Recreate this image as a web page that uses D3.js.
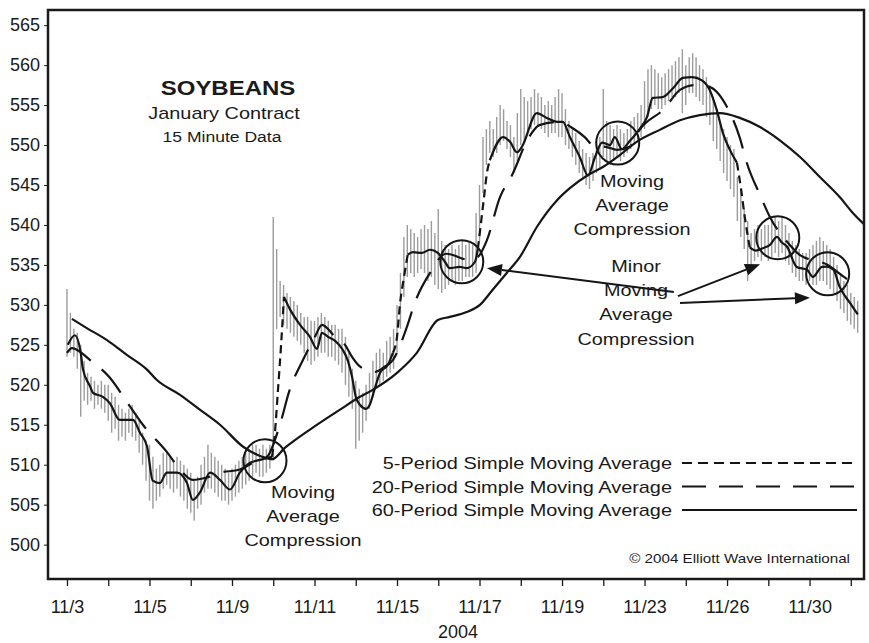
<!DOCTYPE html>
<html>
<head>
<meta charset="utf-8">
<script src="https://cdn.jsdelivr.net/npm/d3@7/dist/d3.min.js"></script>
<style>
    body { margin: 0; background: #fff; }
    svg text { font-family: "Liberation Sans", Arial, Helvetica, sans-serif; fill: #1a1a1a; }
</style>
</head>
<body>
<div id="chart"></div>
<script>

// trading days on the x axis, label on every other one
var days = ["11/3","11/4","11/5","11/8","11/9","11/10","11/11","11/12","11/15","11/16",
            "11/17","11/18","11/19","11/22","11/23","11/24","11/26","11/29","11/30","12/1"];
var priceTicks = [500,505,510,515,520,525,530,535,540,545,550,555,560,565];
var barsPerDay = 12;

// 15 minute bars, high and low, one row per day
var barHigh = [
    532,529,527,526.5,525,523,521.5,521,520.5,520,520.5,520,
    520,519,518.5,517.5,517,516.5,517,517.5,516.5,515.5,514,513,
    512.5,511,509.5,510,511.5,511.5,511,510.5,511,510.5,510,509.5,
    509,508,508.5,510,511,512.5,511.5,511,510.5,510,509.5,509,
    509.5,510,510.5,511,511.5,512,512.5,512.5,512,512.5,512,512.5,
    541,537,533,532.5,531.5,531,530.5,530,529,528.5,528.5,528,
    528,528.5,529,528.5,528,527.5,527.5,527,527,526,524,522,
    520.5,519.5,519,520,521.5,523,524,524.5,524,525.5,526,527,
    530,534,538.5,540,539.5,539,538.5,539.5,540,539.5,540.5,539,
    542,538,537.5,537,537.5,537,537.5,538,537.5,538,537.5,541.5,
    545,551,552,553,552,553.5,555,554.5,553,552.5,551,554,
    557,556,555.5,556,557,556.5,556,555,555.5,555,556,557,
    556.5,554.5,553,552,551.5,550.5,549.5,549,548.5,549,550.5,551,
    557,553,552.5,552,552.5,552,551.5,552,553,553.5,554,555,
    558,559.5,560,559.5,559,558.5,559,559.5,560,560.5,561,562,
    560,561,561.5,561,560,559.5,558.5,557.5,556,554.5,553,552,
    551,550,549.5,546,544.5,542,540.5,539,539.5,540,539.5,540,
    540,540.5,541,540.5,541,540,539,538,537.5,537,536.5,536.5,
    537,537.5,538,538.5,538,537.5,537,536,535,534,533,532.5,
    531.5,531,530.5
];
var barLow = [
    523.5,524,523.5,522,516,518,517.5,518,517,517.5,517,516.5,
    515.5,514,514.5,513,513.5,513,514,513.5,513,511.5,510,508,
    505.5,504.5,505.5,506,507,507.5,507,506.5,507,506,505.5,504.5,
    504,503,504.5,505,506.5,507,507,506.5,506,505.5,505.5,505,
    505.5,506,506.5,507,507.5,508,508.5,509,508.5,508.5,509,509.5,
    510.5,527,528.5,527.5,527,526.5,526,525.5,525,524,523,522.5,
    523,523.5,524,524,523.5,523.5,523,522.5,521.5,520,518.5,517,
    512,513,514,515.5,517,518.5,519.5,520,520.5,521,521.5,522,
    524,527,531,533.5,534,533.5,534,534.5,534,533,533.5,532.5,
    532,531.5,532,532.5,533,532.5,533,533,533.5,533.5,533.5,534,
    538,544,547.5,549,548.5,549,550,550.5,549.5,548.5,546.5,548,
    550,550.5,551.5,552,552.5,552.5,552,551.5,551,551.5,551.5,551,
    551,550,549.5,548.5,547.5,546.5,546,545,544.5,545.5,546.5,547,
    548.5,548,547.5,548,548.5,548,548.5,549,549.5,550,550.5,551,
    552,553.5,554.5,555,554.5,554.5,555,555.5,556,556,556.5,554,
    555,556.5,556.5,556,555.5,555,553.5,552.5,550.5,549.5,548,546.5,
    545.5,544.5,543.5,540.5,538.5,537,533,535,535.5,536,535.5,536,
    535.5,536,536.5,536,536.5,535.5,535,534,533.5,533,533,532.5,
    533,532.5,532.5,533,533,532.5,532,531.5,530.5,529.5,529,528,
    527.5,527,526.5
];

// moving averages: [day, price]
var ma5 = [[0.02,525],[0.19,526.2],[0.32,524.4],[0.39,521.9],[0.56,519.8],[0.63,519],[0.87,518.5],
    [1.04,517.7],[1.28,515.6],[1.6,515.6],[1.77,514],[1.94,512.3],[2.08,508],[2.25,507.7],[2.42,509],
    [2.67,509],[2.91,507.7],[3.05,505.6],[3.22,506.5],[3.47,509],[3.71,508.1],[3.95,506.9],[4.19,509],
    [4.44,510.25],[4.68,510.6],[4.97,511],[5.04,514],[5.11,519],[5.19,525],[5.26,531],[5.4,529.5],
    [5.65,527.5],[5.89,526],[6.06,524.5],[6.18,526.5],[6.33,526],[6.5,525.5],[6.67,524.5],[6.81,523],
    [6.91,521],[7.0,518.5],[7.1,517.5],[7.25,517],[7.34,517.5],[7.46,519.5],[7.59,521.5],[7.78,522.5],
    [7.9,524],[8.0,526],[8.07,530],[8.17,533.5],[8.26,536.3],[8.39,536.6],[8.6,536.5],[8.8,536.9],
    [8.99,536.5],[9.16,535.4],[9.28,534.6],[9.52,534.75],[9.69,534.6],[9.89,535.4],[9.96,537],[10.03,540],
    [10.11,543.5],[10.18,546.5],[10.25,548.1],[10.57,551],[10.74,550.4],[10.91,549.1],[11.03,549.8],
    [11.39,554],[11.63,553.4],[11.88,552.9],[12.02,552.9],[12.19,551],[12.43,548.5],[12.63,546.2],
    [12.8,548.5],[12.97,550.3],[13.16,550],[13.28,551],[13.45,549.5],[13.64,550.5],[13.88,552],
    [14.06,553.5],[14.2,555.9],[14.44,556],[14.69,557.1],[14.93,558.4],[15.15,558.5],[15.39,558.1],
    [15.58,556.9],[15.75,554.4],[15.9,551.5],[16.07,549.4],[16.24,547.8],[16.34,544.5],[16.43,541],
    [16.55,537.2],[16.7,536.8],[16.87,537.1],[17.04,537.5],[17.21,538.5],[17.33,537.8],[17.45,537.3],
    [17.69,534.75],[17.94,534.4],[18.08,533.5],[18.3,534.75],[18.42,534.8],[18.58,534.4],[18.73,532.25],
    [18.98,530.25],[19.17,528.8]];
var ma20 = [[0,524],[0.12,524.6],[0.56,523.1],[1.02,521],[1.5,517.5],[1.84,515],[2.42,511.6],[2.74,509.4],
    [3.05,508.1],[3.39,508.4],[3.71,509],[4.19,509.4],[4.51,510.25],[4.85,511],[5.16,515],[5.4,519.4],
    [5.72,523.1],[6.01,526],[6.18,527.5],[6.5,526],[6.74,525],[6.91,523.5],[7.1,522.3],[7.46,521.6],
    [7.71,522.3],[7.9,523.1],[8.24,527.25],[8.43,530.25],[8.8,534],[9.19,536.4],[9.77,535.6],[9.94,535.9],
    [10.18,538.1],[10.49,543.4],[10.79,546.25],[11.2,551],[11.45,552.5],[11.95,552.9],[12.26,552.1],
    [12.55,551],[12.75,550],[13.09,549.75],[13.33,549.4],[13.64,549.8],[13.88,551.9],[14.49,554.6],
    [14.86,556.9],[15.22,557.5],[15.58,557.25],[16.0,554.75],[16.31,550.9],[16.48,547.75],[16.8,543.75],
    [17.04,541],[17.52,537.5],[17.76,536.25],[18.44,535],[18.86,533.4],[19.17,532.3]];
var ma60 = [[0.12,528.25],[0.48,527.1],[0.97,525.6],[1.45,523.75],[1.94,521.9],[2.18,520.6],[2.74,518.75],
    [3.22,516.9],[3.71,515],[4.27,512.25],[4.73,511],[4.97,510.7],[5.28,512.1],[5.89,514.4],[6.62,516.9],
    [7.1,518.5],[7.42,519.4],[8.0,521.5],[8.48,524],[8.99,528.1],[9.28,528.5],[9.69,529.1],[10.01,530],
    [10.32,531.9],[10.66,534],[10.98,536],[11.39,539.75],[11.88,543.1],[12.19,544.6],[12.63,546.25],
    [12.99,547.25],[13.4,548.75],[13.81,550.4],[14.37,551.9],[14.86,553.1],[15.34,553.75],[15.83,554],
    [16.31,553.4],[16.8,552.25],[17.28,550.6],[17.77,548.5],[18.25,546],[18.73,543.5],[19.05,541.5],
    [19.34,540]];

// compression circles [day, price] and arrows [from, to]
var circles = [[4.80,510.5],[9.57,535.4],[13.35,550.25],[17.23,538.4],[18.44,533.9]];
var arrows = [[[14.71,531.6],[10.18,534.6]], [[14.81,531.1],[16.80,535.1]], [[14.86,530.25],[18.01,530.9]]];

function init() {
    createChart();
}

function txt(g, s, x, y, size, anchor, weight) {
    // the original lettering is a bit wide, stretch it
    return g.append("text")
        .attr("transform", "translate(" + x + "," + y + ") scale(1.17,1)")
        .attr("text-anchor", anchor)
        .attr("font-size", size)
        .attr("font-weight", weight || "normal")
        .text(s);
}

function createChart() {
    var width = 869, height = 643;
    var left = 48, right = 864, top = 10, bottom = 579;

    var svg = d3.select("div#chart").append("svg")
        .attr("width", width)
        .attr("height", height);

    var x = d3.scaleLinear().domain([-0.46, 19.32]).range([left, right]);
    var y = d3.scaleLinear().domain([495.7, 566.9]).range([bottom, top]);

    svg.append("clipPath").attr("id", "plot")
        .append("rect").attr("x", left).attr("y", top)
        .attr("width", right - left).attr("height", bottom - top);

    var plot = svg.append("g").attr("clip-path", "url(#plot)");

    // price bars
    var bars = barHigh.map(function(h, i) { return { t: i / barsPerDay, h: h, l: barLow[i] }; });
    plot.selectAll("line.bar")
        .data(bars)
        .enter().append("line")
        .attr("class", "bar")
        .attr("x1", function(d) { return x(d.t); })
        .attr("x2", function(d) { return x(d.t); })
        .attr("y1", function(d) { return y(d.h); })
        .attr("y2", function(d) { return y(d.l); })
        .attr("stroke", "#9c9c9c")
        .attr("stroke-width", 1.4);

    var line = d3.line()
        .x(function(d) { return x(d[0]); })
        .y(function(d) { return y(d[1]); })
        .curve(d3.curveMonotoneX);

    // 60 period
    plot.append("path").attr("d", line(ma60))
        .attr("fill", "none").attr("stroke", "#151515").attr("stroke-width", 2.2);

    // 20 period, long dashes
    plot.append("path").attr("d", line(ma20))
        .attr("fill", "none").attr("stroke", "#151515").attr("stroke-width", 2.2)
        .attr("stroke-dasharray", "30,14");

    // 5 period: hugs the price, only the fast jumps show as short dashes
    var dashSpans = [[4.97,5.26],[7.9,8.26],[9.96,10.25],[16.24,16.55]];
    var groups = [], cur = null;
    for (var i = 0; i < ma5.length - 1; i++) {
        var mid = (ma5[i][0] + ma5[i + 1][0]) / 2;
        var dashed = dashSpans.some(function(s) { return mid > s[0] && mid < s[1]; });
        if (!cur || cur.dashed != dashed) {
            cur = { dashed: dashed, pts: [ma5[i]] };
            groups.push(cur);
        }
        cur.pts.push(ma5[i + 1]);
    }
    groups.forEach(function(gr) {
        plot.append("path").attr("d", line(gr.pts))
            .attr("fill", "none").attr("stroke", "#151515").attr("stroke-width", 2.2)
            .attr("stroke-dasharray", gr.dashed ? "8,5" : null);
    });

    // frame
    svg.append("rect")
        .attr("x", left).attr("y", top)
        .attr("width", right - left).attr("height", bottom - top)
        .attr("fill", "none").attr("stroke", "#1a1a1a").attr("stroke-width", 2.5);

    // axes
    var yAxis = svg.append("g")
        .attr("transform", "translate(" + left + ",0)")
        .call(d3.axisLeft(y).tickValues(priceTicks).tickSize(4).tickPadding(4));
    yAxis.select(".domain").remove();
    yAxis.selectAll("text").attr("font-size", 18).attr("font-family", null).attr("fill", "#1a1a1a");
    yAxis.selectAll("line").attr("stroke", "#1a1a1a");

    var xAxis = svg.append("g")
        .attr("transform", "translate(0," + bottom + ")")
        .call(d3.axisBottom(x).tickValues(d3.range(days.length)).tickSize(7)
            .tickFormat(function(d) { return (d % 2 == 0 && d < 19) ? days[d] : ""; }));
    xAxis.select(".domain").remove();
    xAxis.selectAll("line").attr("stroke", "#1a1a1a").attr("stroke-width", 1.3);
    xAxis.selectAll("text").attr("font-size", 18).attr("font-family", null)
        .attr("fill", "#1a1a1a").attr("y", 34).attr("dy", 0);

    svg.append("text").attr("x", 458).attr("y", 638)
        .attr("text-anchor", "middle").attr("font-size", 18).text("2004");

    // circles
    svg.selectAll("circle.comp")
        .data(circles)
        .enter().append("circle")
        .attr("class", "comp")
        .attr("cx", function(d) { return x(d[0]); })
        .attr("cy", function(d) { return y(d[1]); })
        .attr("r", 21.5)
        .attr("fill", "none").attr("stroke", "#151515").attr("stroke-width", 2);

    // arrows
    arrows.forEach(function(a) {
        var x0 = x(a[0][0]), y0 = y(a[0][1]), x1 = x(a[1][0]), y1 = y(a[1][1]);
        var ang = Math.atan2(y1 - y0, x1 - x0), len = 15, w = 6;
        var bx = x1 - len * Math.cos(ang), by = y1 - len * Math.sin(ang);
        svg.append("line")
            .attr("x1", x0).attr("y1", y0).attr("x2", bx).attr("y2", by)
            .attr("stroke", "#151515").attr("stroke-width", 2);
        svg.append("path")
            .attr("d", "M" + x1 + "," + y1 +
                "L" + (bx + w * Math.sin(ang)) + "," + (by - w * Math.cos(ang)) +
                "L" + (bx - w * Math.sin(ang)) + "," + (by + w * Math.cos(ang)) + "Z")
            .attr("fill", "#151515");
    });

    // titles and notes
    txt(svg, "SOYBEANS", 228, 95, 20.5, "middle", "bold");
    txt(svg, "January Contract", 224, 119, 17, "middle");
    txt(svg, "15 Minute Data", 222, 142, 15, "middle");

    var notes = [
        { x: 303, y: 498, lines: ["Moving", "Average", "Compression"] },
        { x: 632, y: 187, lines: ["Moving", "Average", "Compression"] },
        { x: 636, y: 272, lines: ["Minor", "Moving", "Average", "Compression"] }
    ];
    notes.forEach(function(n) {
        n.lines.forEach(function(s, k) {
            txt(svg, s, n.x, n.y + k * 24.2, 17, "middle");
        });
    });

    // legend
    var legend = [
        { name: "5-Period Simple Moving Average", dash: "10,6" },
        { name: "20-Period Simple Moving Average", dash: "24,13" },
        { name: "60-Period Simple Moving Average", dash: null }
    ];
    legend.forEach(function(l, k) {
        txt(svg, l.name, 672, 469 + k * 23.5, 17, "end");
        svg.append("line")
            .attr("x1", 682).attr("x2", 857)
            .attr("y1", 463 + k * 23.5).attr("y2", 463 + k * 23.5)
            .attr("stroke", "#151515").attr("stroke-width", 2)
            .attr("stroke-dasharray", l.dash);
    });

    txt(svg, "\u00a9 2004 Elliott Wave International", 850, 563, 13, "end");
}

init();
</script>
</body>
</html>
